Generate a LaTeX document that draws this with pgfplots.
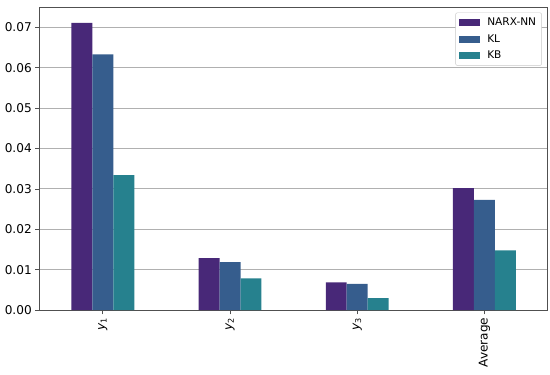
\documentclass[border=0pt]{standalone}
\usepackage{pgfplots}
\pgfplotsset{compat=1.18}
\usepackage{fontspec}
\setmainfont{DejaVu Sans}

\definecolor{narx}{HTML}{482878}
\definecolor{kl}{HTML}{365D8D}
\definecolor{kb}{HTML}{26818E}
\definecolor{gridc}{HTML}{B0B0B0}
\definecolor{framec}{HTML}{505050}

\begin{document}
\begin{tikzpicture}
\begin{axis}[
    name=ax,
    scale only axis,
    width=505pt, height=301pt,
    ybar=0pt,
    bar width=20.8pt,
    xmin=-0.5, xmax=3.5,
    ymin=0, ymax=0.075,
    xtick={0,1,2,3},
    xticklabels={{\itshape y}\textsubscript{1},{\itshape y}\textsubscript{2},{\itshape y}\textsubscript{3},Average},
    xticklabel style={rotate=90, anchor=east, font=\fontsize{12}{14}\selectfont},
    ytick={0,0.01,...,0.07},
    yticklabel style={font=\fontsize{12}{14}\selectfont,
        /pgf/number format/.cd, fixed, fixed zerofill, precision=2, assume math mode=true},
    scaled y ticks=false,
    tick align=outside,
    major tick length=4pt,
    tick style={framec, line width=0.8pt},
    xtick pos=bottom, ytick pos=left,
    ymajorgrids,
    grid style={gridc, line width=1pt},
    axis line style={framec, line width=1pt},
    legend style={at={(0.988,0.982)}, anchor=north east, draw=gridc!70,
        rounded corners=2pt, font=\fontsize{10.5}{12}\selectfont,
        row sep=3pt, inner sep=3.5pt},
    legend cell align=left,
    legend image code/.code={%
        \fill[#1, sharp corners] (0pt,-3.5pt) rectangle (21pt,3.5pt);
        \path (26pt,0pt);},
]
\addplot[fill=narx, draw=none, bar shift=-20.8pt] coordinates {(0,0.0711) (1,0.0129) (2,0.0069) (3,0.0302)};
\addplot[fill=kl, draw=none, bar shift=0pt] coordinates {(0,0.0633) (1,0.0119) (2,0.0065) (3,0.0273)};
\addplot[fill=kb, draw=none, bar shift=20.8pt] coordinates {(0,0.0334) (1,0.0079) (2,0.0030) (3,0.0148)};
\legend{NARX-NN,KL,KB}
\end{axis}
\path ([xshift=-39pt,yshift=-64pt]ax.south west) rectangle ([xshift=2pt,yshift=7pt]ax.north east);
\end{tikzpicture}
\end{document}
